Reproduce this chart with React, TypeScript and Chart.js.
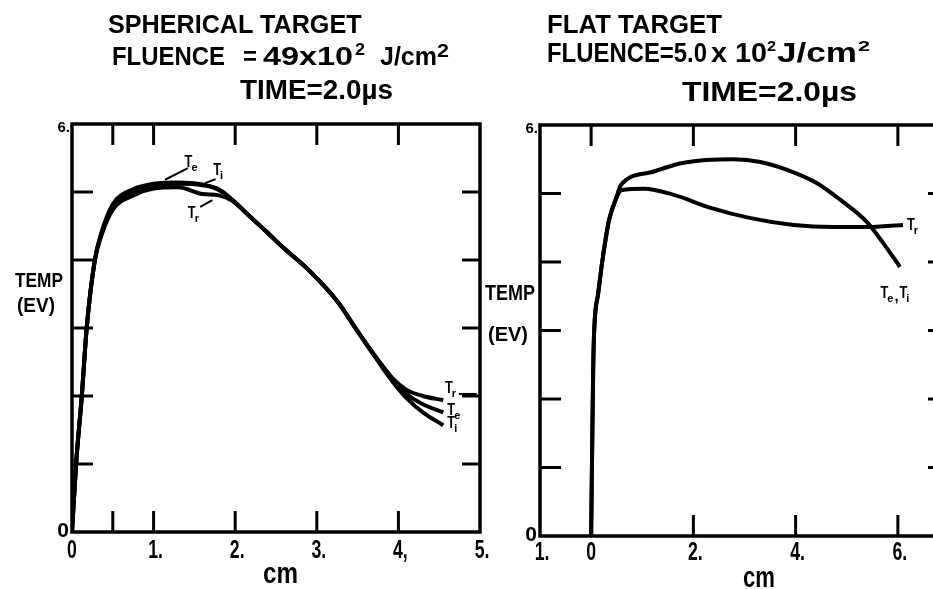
import React, { useEffect, useRef } from "react";
import { Chart, registerables } from "chart.js";

Chart.register(...registerables);

// ---------------- data: spherical target (left panel) ----------------
const sphX = [0, 0.05, 0.12, 0.18, 0.28, 0.36, 0.5, 0.75, 1.0, 1.3, 1.6, 1.8, 1.95, 2.18, 2.37, 2.59, 2.92, 3.26, 3.49, 3.74, 3.93, 4.1, 4.3, 4.55];
const sphTe = [0, 1.0, 2.0, 3.0, 4.0, 4.4, 4.82, 5.04, 5.12, 5.14, 5.11, 5.03, 4.9, 4.64, 4.43, 4.18, 3.83, 3.38, 2.97, 2.54, 2.24, 2.03, 1.88, 1.76];
const sphTi = [0, 1.0, 2.0, 3.0, 4.0, 4.38, 4.78, 5.0, 5.09, 5.12, 5.1, 5.04, 4.9, 4.64, 4.43, 4.18, 3.83, 3.38, 2.97, 2.53, 2.21, 1.97, 1.76, 1.57];
const sphTr = [0, 1.0, 2.0, 3.0, 4.0, 4.36, 4.74, 4.95, 5.05, 5.07, 4.97, 4.95, 4.88, 4.64, 4.43, 4.18, 3.83, 3.38, 2.97, 2.55, 2.26, 2.09, 2.0, 1.94];

const sphXTickValues = [0, 1, 2, 3, 4, 5];
const sphXTickLabels = ["0", "1.", "2.", "3.", "4,", "5."];
const sphXMarks = [0.5, 1, 2, 3, 4];
const sphYMarks = [1, 2, 3, 4, 5];

// ---------------- data: flat target (right panel) ----------------
const flatTrX = [0, 0.02, 0.04, 0.06, 0.14, 0.23, 0.35, 0.49, 0.6, 1.03, 1.62, 2.34, 3.12, 3.96, 4.74, 5.4, 6.1];
const flatTr = [0, 1.26, 2.42, 3.0, 3.55, 4.07, 4.61, 4.93, 5.05, 5.07, 4.98, 4.79, 4.64, 4.54, 4.51, 4.51, 4.54];
const flatTeX = [0, 0.02, 0.04, 0.06, 0.14, 0.23, 0.35, 0.49, 0.58, 1.17, 1.81, 2.79, 3.31, 3.96, 4.42, 4.87, 5.4, 5.71, 6.04];
const flatTe = [0, 1.26, 2.42, 3.0, 3.55, 4.07, 4.61, 4.93, 5.12, 5.31, 5.45, 5.5, 5.46, 5.31, 5.15, 4.91, 4.58, 4.28, 3.93];

const flatXTickValues = [-1, 0, 2, 4, 6];
const flatXTickLabels = ["1.", "0", "2.", "4.", "6."];
const flatTopMarks = [0, 2, 4, 6];
const flatBottomMarks = [2, 4, 6];
const flatYMarks = [1, 2, 3, 4, 5];

const yEndValues = [0, 6];
const yEndLabels = ["0", "6."];

// curve labels (data coordinates of the "T" left / baseline)
const sphCurveLabels = [
  { x: 1.38, y: 5.37, sub: "e" },
  { x: 1.73, y: 5.25, sub: "i" },
  { x: 1.42, y: 4.62, sub: "r" },
  { x: 4.57, y: 2.04, sub: "r" },
  { x: 4.6, y: 1.72, sub: "e" },
  { x: 4.6, y: 1.53, sub: "i" },
];
const sphLeaders = [
  [1.42, 5.35, 1.14, 5.18],
  [1.76, 5.19, 1.63, 5.13],
  [1.57, 4.78, 1.72, 4.88],
  [4.74, 2.03, 4.96, 2.03],
];
const flatCurveLabels = [
  { x: 6.18, y: 4.47, sub: "r" },
  { x: 5.66, y: 3.47, sub: "e", tail: ",", sub2: "i" },
];

const FONT = "'Liberation Sans', Arial, sans-serif";

type Cfg = {
  xVals: number[];
  xLabels: string[];
  topMarks: number[];
  bottomMarks: number[];
  yMarks: number[];
  rightTickLen: number;
  labels: any[];
  leaders: number[][];
  xLabelCapTop: number;
};

function makeFrame(cfg: Cfg) {
  return {
    id: "frame",
    afterDraw(chart: any) {
      const { ctx, chartArea: a } = chart;
      const xs = chart.scales.x;
      const ys = chart.scales.y;
      ctx.save();
      ctx.strokeStyle = "#000";
      ctx.fillStyle = "#000";
      ctx.lineCap = "butt";
      const seg = (x1: number, y1: number, x2: number, y2: number) => {
        ctx.beginPath();
        ctx.moveTo(x1, y1);
        ctx.lineTo(x2, y2);
        ctx.stroke();
      };
      ctx.lineWidth = 3.5;
      ctx.strokeRect(a.left, a.top, a.right - a.left, a.bottom - a.top);
      ctx.lineWidth = 3;
      const L = 21;
      cfg.topMarks.forEach((v) => {
        const p = xs.getPixelForValue(v);
        seg(p, a.top, p, a.top + L);
      });
      cfg.bottomMarks.forEach((v) => {
        const p = xs.getPixelForValue(v);
        seg(p, a.bottom, p, a.bottom - L);
      });
      cfg.yMarks.forEach((v) => {
        const p = ys.getPixelForValue(v);
        seg(a.left, p, a.left + L, p);
        seg(a.right, p, a.right - cfg.rightTickLen, p);
      });
      // x tick labels
      ctx.textBaseline = "alphabetic";
      ctx.textAlign = "center";
      ctx.font = `bold 26px ${FONT}`;
      cfg.xVals.forEach((v, i) => {
        const t = cfg.xLabels[i];
        const w = ctx.measureText(t).width * 0.68;
        const p = xs.getPixelForValue(v) + (t.length > 1 ? 2 : 0);
        ctx.fillText(t, p, cfg.xLabelCapTop + 19, w);
      });
      // y end labels
      ctx.textAlign = "right";
      yEndValues.forEach((v, i) => {
        const t = yEndLabels[i];
        const p = ys.getPixelForValue(v);
        if (v === 0) {
          ctx.font = `bold 21px ${FONT}`;
          ctx.fillText(t, a.left - 3, p + 5);
        } else {
          ctx.font = `bold 15px ${FONT}`;
          ctx.fillText(t, a.left - 2, p + 8);
        }
      });
      // leaders
      ctx.lineWidth = 2;
      cfg.leaders.forEach(([x1, y1, x2, y2]) => {
        seg(xs.getPixelForValue(x1), ys.getPixelForValue(y1), xs.getPixelForValue(x2), ys.getPixelForValue(y2));
      });
      // curve labels
      ctx.textAlign = "left";
      cfg.labels.forEach((lb) => {
        let px = xs.getPixelForValue(lb.x);
        const py = ys.getPixelForValue(lb.y);
        const drawT = (sub: string) => {
          ctx.font = `bold 17px ${FONT}`;
          const w = ctx.measureText("T").width * 0.75;
          ctx.fillText("T", px, py, w);
          px += w - 1;
          ctx.font = `bold 11px ${FONT}`;
          ctx.fillText(sub, px, py + 4);
          px += ctx.measureText(sub).width + 1;
        };
        drawT(lb.sub);
        if (lb.tail) {
          ctx.font = `bold 15px ${FONT}`;
          ctx.fillText(lb.tail, px, py + 3);
          px += ctx.measureText(lb.tail).width + 1;
          drawT(lb.sub2);
        }
      });
      ctx.restore();
    },
  };
}

const measureCtx: CanvasRenderingContext2D | null =
  typeof document !== "undefined" ? document.createElement("canvas").getContext("2d") : null;

function Txt({ t, x, ct, c, w }: { t: string; x: number; ct: number; c: number; w?: number }) {
  const size = c / 0.716;
  let sx = 1;
  if (measureCtx && w) {
    measureCtx.font = `bold ${size}px ${FONT}`;
    const nat = measureCtx.measureText(t).width;
    if (nat > 0) sx = w / nat;
  }
  const top = ct + c - 0.8465 * size;
  return (
    <div
      style={{
        position: "absolute",
        left: x,
        top,
        fontFamily: FONT,
        fontWeight: "bold",
        fontSize: size,
        lineHeight: `${size}px`,
        whiteSpace: "pre",
        color: "#000",
        transform: `scaleX(${sx})`,
        transformOrigin: "0 0",
      }}
    >
      {t}
    </div>
  );
}

const texts = [
  { t: "SPHERICAL TARGET", x: 108, ct: 15, c: 18, w: 254 },
  { t: "FLUENCE", x: 112, ct: 47, c: 18, w: 113 },
  { t: "=", x: 243, ct: 47, c: 18, w: 14 },
  { t: "49x10", x: 263, ct: 47, c: 18, w: 90 },
  { t: "2", x: 355, ct: 44, c: 12, w: 10 },
  { t: "J/cm", x: 380, ct: 47, c: 18, w: 57 },
  { t: "2", x: 437, ct: 44, c: 13, w: 12 },
  { t: "TIME=2.0µs", x: 240, ct: 80, c: 20, w: 153 },
  { t: "TEMP", x: 15, ct: 273, c: 15, w: 48 },
  { t: "(EV)", x: 17, ct: 298, c: 15, w: 38 },
  { t: "cm", x: 263, ct: 562, c: 21, w: 35 },
  { t: "FLAT TARGET", x: 547, ct: 15, c: 18, w: 175 },
  { t: "FLUENCE=5.0", x: 547, ct: 43, c: 20, w: 160 },
  { t: "x 10", x: 711, ct: 43, c: 20, w: 56 },
  { t: "2", x: 767, ct: 40, c: 11, w: 9 },
  { t: "J/cm", x: 777, ct: 43, c: 20, w: 80 },
  { t: "2", x: 858, ct: 40, c: 11, w: 12 },
  { t: "TIME=2.0µs", x: 682, ct: 82, c: 20, w: 175 },
  { t: "TEMP", x: 485, ct: 285, c: 16, w: 50 },
  { t: "(EV)", x: 488, ct: 327, c: 15, w: 40 },
  { t: "cm", x: 743, ct: 566, c: 21, w: 32 },
];

function lineDs(xv: number[], yv: number[]) {
  return {
    data: xv.map((x, i) => ({ x, y: yv[i] })),
    borderColor: "#000",
    borderWidth: 4,
    pointRadius: 0,
    fill: false,
    cubicInterpolationMode: "monotone" as const,
  };
}

function baseOptions(xmin: number, xmax: number, padding: any) {
  return {
    responsive: false,
    animation: false as const,
    devicePixelRatio: 1,
    layout: { padding },
    plugins: { legend: { display: false }, tooltip: { enabled: false } },
    scales: {
      x: { type: "linear" as const, min: xmin, max: xmax, display: false },
      y: { type: "linear" as const, min: 0, max: 6, display: false },
    },
  };
}

export default function App() {
  const leftRef = useRef<HTMLCanvasElement>(null);
  const rightRef = useRef<HTMLCanvasElement>(null);

  useEffect(() => {
    const c1 = new Chart(leftRef.current!, {
      type: "line",
      data: { datasets: [lineDs(sphX, sphTe), lineDs(sphX, sphTi), lineDs(sphX, sphTr)] },
      options: baseOptions(0, 5, { left: 72, top: 124, right: 20, bottom: 57 }) as any,
      plugins: [
        makeFrame({
          xVals: sphXTickValues,
          xLabels: sphXTickLabels,
          topMarks: sphXMarks,
          bottomMarks: sphXMarks,
          yMarks: sphYMarks,
          rightTickLen: 18,
          labels: sphCurveLabels,
          leaders: sphLeaders,
          xLabelCapTop: 539,
        }),
      ],
    });
    const c2 = new Chart(rightRef.current!, {
      type: "line",
      data: { datasets: [lineDs(flatTeX, flatTe), lineDs(flatTrX, flatTr)] },
      options: baseOptions(-1, 7, { left: 60, top: 125, right: 31, bottom: 53 }) as any,
      plugins: [
        makeFrame({
          xVals: flatXTickValues,
          xLabels: flatXTickLabels,
          topMarks: flatTopMarks,
          bottomMarks: flatBottomMarks,
          yMarks: flatYMarks,
          rightTickLen: 21,
          labels: flatCurveLabels,
          leaders: [],
          xLabelCapTop: 541,
        }),
      ],
    });
    return () => {
      c1.destroy();
      c2.destroy();
    };
  }, []);

  return (
    <div
      style={{
        position: "fixed",
        left: 0,
        top: 0,
        width: 933,
        height: 589,
        overflow: "hidden",
        background: "#fff",
      }}
    >
      <canvas ref={leftRef} width={500} height={589} style={{ position: "absolute", left: 0, top: 0, width: 500, height: 589 }} />
      <canvas ref={rightRef} width={500} height={589} style={{ position: "absolute", left: 480, top: 0, width: 500, height: 589 }} />
      {texts.map((d, i) => (
        <Txt key={i} {...d} />
      ))}
    </div>
  );
}
